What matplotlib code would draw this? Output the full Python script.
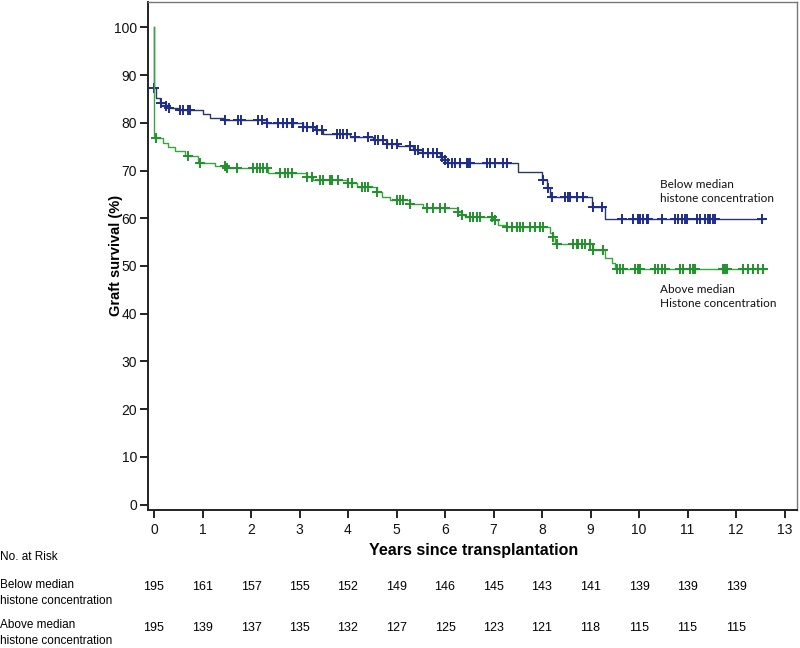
import numpy as np
import matplotlib
matplotlib.use("Agg")
import matplotlib.pyplot as plt
from matplotlib import font_manager

plt.rcParams['font.family'] = ['Liberation Sans', 'DejaVu Sans']
_names = {f.name for f in font_manager.fontManager.ttflist}
NARROW = ['Liberation Sans Narrow', 'Liberation Sans'] if 'Liberation Sans Narrow' in _names else ['Liberation Sans']

# ---- Data ----
below_t = [0, 0, 0.05, 0.12, 0.25, 0.29, 0.5, 1.01, 1.15, 1.43, 2.33, 3.07, 3.32, 3.49,
           4.04, 4.52, 4.80, 5.03, 5.34, 5.53, 5.90, 5.97, 6.04, 7.50, 8.00, 8.10, 8.16,
           9.03, 9.30]
below_s = [100, 87.3, 85.2, 84.2, 83.5, 83.1, 82.7, 81.9, 81.0, 80.6, 80.0, 79.2, 78.5, 77.6,
           77.0, 76.4, 75.6, 75.2, 74.3, 73.6, 72.8, 72.2, 71.5, 69.8, 68.0, 66.3, 64.5,
           62.3, 59.8]
below_end = 12.56
below_cens = [0.0, 0.15, 0.25, 0.31, 0.54, 0.60, 0.70, 0.74, 1.46, 1.73, 1.80, 2.14, 2.23, 2.33,
              2.56, 2.66, 2.74, 2.85, 2.87, 3.07, 3.15, 3.28, 3.36, 3.46, 3.77, 3.84, 3.90,
              3.98, 4.14, 4.41, 4.56, 4.62, 4.72, 4.80, 4.90, 5.00, 5.28, 5.38, 5.44, 5.55,
              5.65, 5.75, 5.84, 5.94, 6.00, 6.06, 6.14, 6.20, 6.31, 6.45, 6.47, 6.52, 6.87,
              6.93, 7.03, 7.20, 7.28, 8.02, 8.12, 8.20, 8.47, 8.54, 8.58, 8.72, 8.85, 9.05,
              9.24, 9.65, 9.88, 9.98, 10.02, 10.08, 10.16, 10.19, 10.47, 10.74, 10.80, 10.89,
              10.95, 10.99, 11.20, 11.26, 11.36, 11.42, 11.46, 11.53, 11.57, 12.54]

above_t = [0, 0, 0.19, 0.29, 0.43, 0.64, 0.91, 1.26, 1.50, 2.35, 3.15, 3.28, 3.98, 4.18,
           4.60, 4.70, 4.87, 5.28, 5.55, 6.27, 6.35, 6.41, 6.99, 7.10, 7.24, 8.16, 8.22,
           8.27, 9.05, 9.30, 9.44, 9.50]
above_s = [100, 76.8, 75.7, 75.0, 74.0, 73.1, 71.5, 71.0, 70.5, 69.4, 68.6, 68.0, 67.3, 66.5,
           65.5, 64.5, 63.8, 63.0, 62.1, 61.3, 60.7, 60.2, 59.6, 58.6, 58.1, 56.9, 56.1,
           54.6, 53.4, 51.6, 50.6, 49.4]
above_end = 12.60
above_cens = [0.05, 0.70, 0.95, 1.46, 1.50, 1.71, 2.04, 2.12, 2.19, 2.25, 2.33, 2.60, 2.70,
              2.76, 2.85, 3.15, 3.26, 3.42, 3.48, 3.63, 3.67, 3.79, 4.00, 4.08, 4.29, 4.35,
              4.41, 4.60, 5.00, 5.07, 5.13, 5.28, 5.63, 5.75, 5.90, 6.00, 6.27, 6.35, 6.52,
              6.58, 6.66, 6.72, 6.97, 7.03, 7.28, 7.38, 7.48, 7.55, 7.61, 7.75, 7.86, 7.96,
              8.02, 8.23, 8.31, 8.64, 8.72, 8.74, 8.82, 8.89, 8.99, 9.05, 9.26, 9.55, 9.61,
              9.67, 9.92, 9.98, 10.02, 10.33, 10.39, 10.47, 10.54, 10.85, 10.91, 11.05, 11.11,
              11.15, 11.73, 11.77, 11.81, 12.14, 12.25, 12.35, 12.45, 12.56]

years = list(range(0, 14))
risk_years = list(range(0, 13))
risk_below = [195, 161, 157, 155, 152, 149, 146, 145, 143, 141, 139, 139, 139]
risk_above = [195, 139, 137, 135, 132, 127, 125, 123, 121, 118, 115, 115, 115]

label_below = "Below median\nhistone concentration"
label_above = "Above median\nHistone concentration"
risk_label_below = "Below median\nhistone concentration"
risk_label_above = "Above median\nhistone concentration"

# ---- Figure ----
W, H = 800, 648
fig = plt.figure(figsize=(W / 100, H / 100), dpi=100)
ax = fig.add_axes([148 / W, 1 - 510 / H, (797 - 148) / W, (510 - 1.7) / H])

BLUE_LINE = '#2c3470'
BLUE_MK = '#1f2d8a'
GREEN_LINE = '#3aa640'
GREEN_MK = '#22902c'


def surv_at(ts, ss, t):
    idx = np.searchsorted(np.array(ts), t, side='right') - 1
    return np.array(ss)[idx]


def draw(ts, ss, end, cens, lc, mc, z):
    x = list(ts) + [end]
    y = list(ss) + [ss[-1]]
    ax.step(x, y, where='post', color=lc, lw=1.0, zorder=z)
    c = np.array(cens)
    ax.plot(c, surv_at(ts, ss, c), linestyle='none', marker='+', ms=6.5,
            mew=1.4, color=mc, zorder=z + 0.5)


draw(below_t, below_s, below_end, below_cens, BLUE_LINE, BLUE_MK, 3)
draw(above_t, above_s, above_end, above_cens, GREEN_LINE, GREEN_MK, 4)

ax.set_xlim((148 - 154) / 48.5, (797 - 154) / 48.5)
ax.set_ylim(-1.15, 105.4)
ax.set_yticks(range(0, 101, 10))
ax.set_xticks(years)
ax.tick_params(axis='both', direction='out', length=6, width=1.4, labelsize=10,
               color='#222222', labelcolor='#111111')
ax.tick_params(axis='y', pad=2)
ax.tick_params(axis='x', pad=3)
for lab in ax.get_xticklabels() + ax.get_yticklabels():
    lab.set_family(NARROW)
for s in ['left', 'bottom']:
    ax.spines[s].set_color('#222222')
    ax.spines[s].set_linewidth(1.4)
for s in ['top', 'right']:
    ax.spines[s].set_color('#777777')
    ax.spines[s].set_linewidth(1.0)

ax.text(10.43, 65.7, label_below, fontsize=8.5, family=['Lato', 'DejaVu Sans'],
        va='center', ha='left', color='#111111', linespacing=1.35)
ax.text(10.43, 43.6, label_above, fontsize=8.5, family=['Lato', 'DejaVu Sans'],
        va='center', ha='left', color='#111111', linespacing=1.35)

fig.text(116 / W, 1 - 255 / H, "Graft survival (%)", rotation=90, fontsize=10.5,
         fontweight='bold', ha='center', va='center')
fig.text(474 / W, 1 - 551 / H, "Years since transplantation", fontsize=11.5,
         fontweight='bold', ha='center', va='center', family=NARROW if NARROW[0] != 'Liberation Sans' else ['Liberation Sans'])

# ---- Number at risk table ----
fig.text(0.0, 1 - 557 / H, "No. at Risk", fontsize=8.5, ha='left', va='center', family=NARROW)
fig.text(0.0, 1 - 593 / H, risk_label_below, fontsize=8.5, ha='left', va='center',
         linespacing=1.35, family=NARROW)
fig.text(0.0, 1 - 633 / H, risk_label_above, fontsize=8.5, ha='left', va='center',
         linespacing=1.35, family=NARROW)


def data_x_to_fig(t):
    disp = ax.transData.transform((t, 0))
    return fig.transFigure.inverted().transform(disp)[0]


for yr, nb, na in zip(risk_years, risk_below, risk_above):
    fx = data_x_to_fig(yr)
    fig.text(fx, 1 - 587 / H, str(nb), fontsize=9, ha='center', va='center', family=NARROW)
    fig.text(fx, 1 - 628 / H, str(na), fontsize=9, ha='center', va='center', family=NARROW)

fig.savefig("out.png", dpi=100)
